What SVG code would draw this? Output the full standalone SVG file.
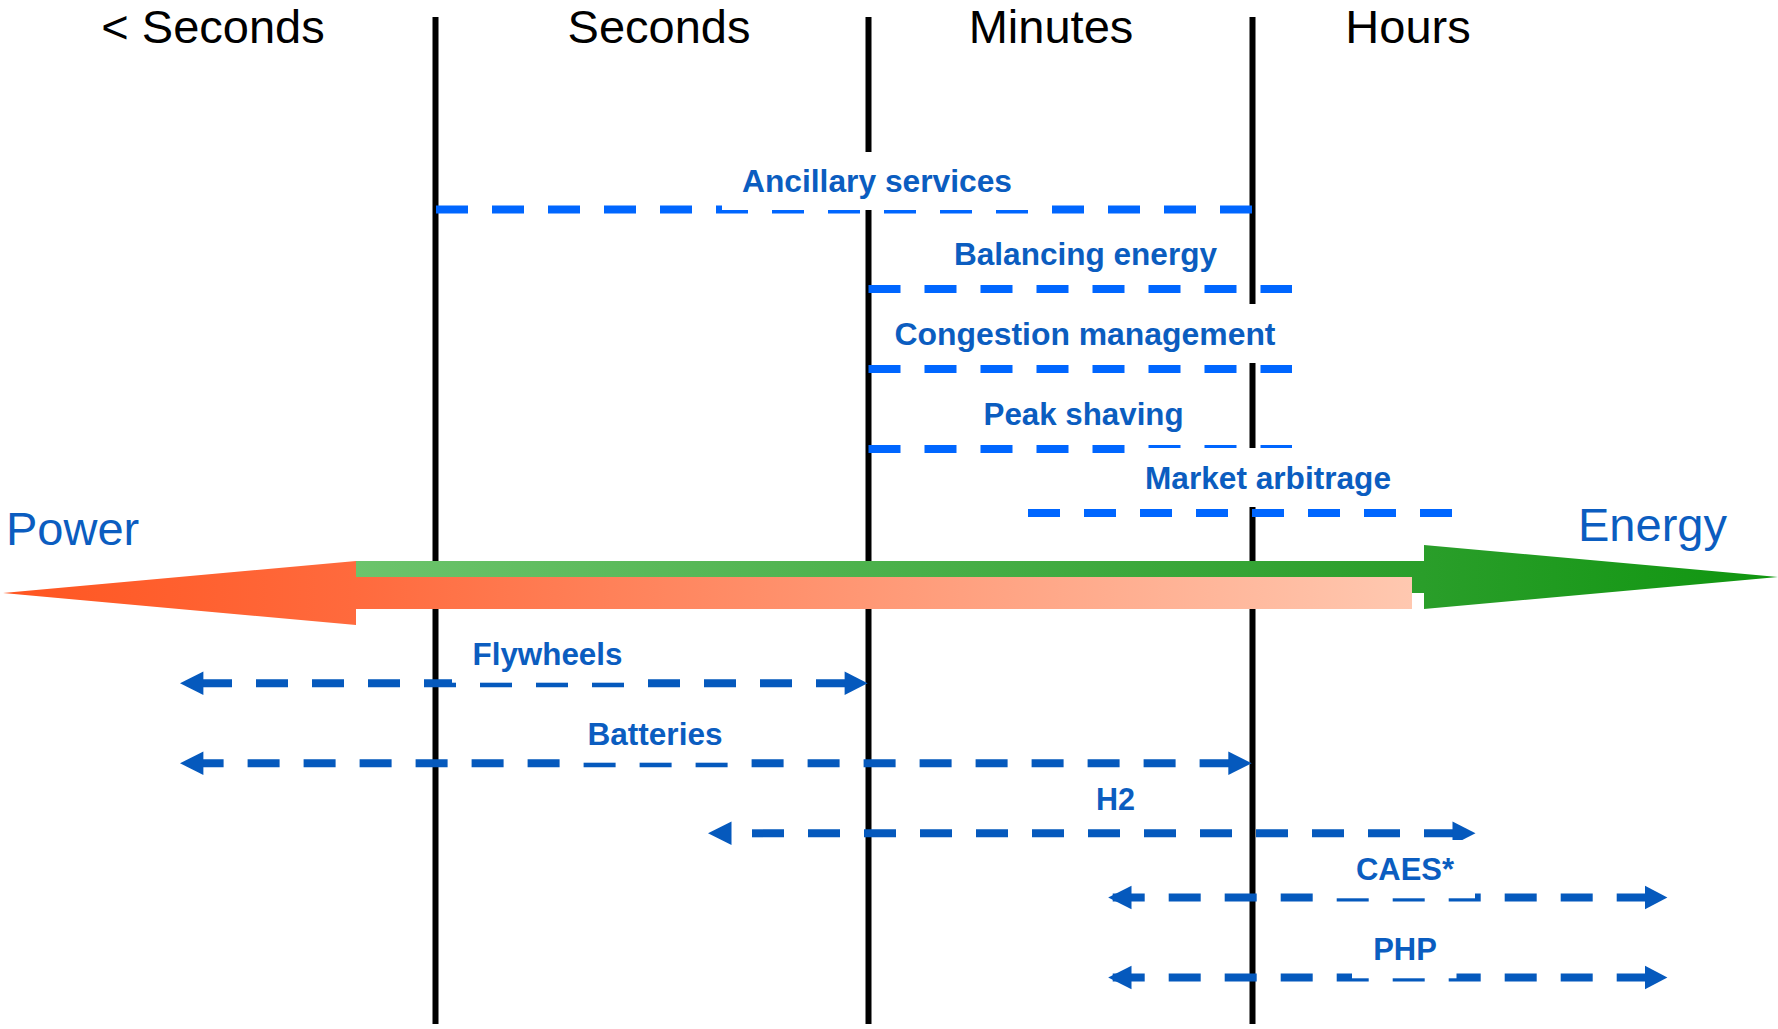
<svg xmlns="http://www.w3.org/2000/svg" width="1778" height="1029" viewBox="0 0 1778 1029">
  <defs>
    <linearGradient id="gOrange" gradientUnits="userSpaceOnUse" x1="0" y1="0" x2="1412" y2="0">
      <stop offset="0" stop-color="#ff5520"/>
      <stop offset="0.25" stop-color="#ff6a3d"/>
      <stop offset="1" stop-color="#ffc8b0"/>
    </linearGradient>
    <linearGradient id="gGreen" gradientUnits="userSpaceOnUse" x1="356" y1="0" x2="1778" y2="0">
      <stop offset="0" stop-color="#6cc46c"/>
      <stop offset="0.75" stop-color="#2a9e2a"/>
      <stop offset="1" stop-color="#0f960f"/>
    </linearGradient>
  </defs>
  <style>
    .hdr { font-family: "Liberation Sans", Arial, sans-serif; font-size: 47px; fill: #000; text-anchor: middle; }
    .axis { font-family: "Liberation Sans", Arial, sans-serif; font-size: 47px; fill: #0b5dc0; }
    .lbl { font-family: "Liberation Sans", Arial, sans-serif; font-size: 31px; font-weight: bold; fill: #0b5dc0; text-anchor: middle; }
    .vline { stroke: #000; stroke-width: 6; fill: none; }
    .svc { stroke: #0066ff; stroke-width: 8; stroke-dasharray: 32 24; fill: none; }
    .tech { stroke: #0559bd; stroke-width: 8; stroke-dasharray: 32 24; fill: none; }
    .head { fill: #0559bd; }
    .box { fill: #fff; }
  </style>
  <rect width="1778" height="1029" fill="#fff"/>

  <g id="timescale-headers">
    <text class="hdr" x="213" y="43">&lt; Seconds</text>
    <text class="hdr" x="659" y="43">Seconds</text>
    <text class="hdr" x="1051" y="43">Minutes</text>
    <text class="hdr" x="1408" y="43">Hours</text>
  </g>

  <g id="dividers">
    <line class="vline" x1="435.5" y1="17" x2="435.5" y2="1024"/>
    <line class="vline" x1="868.5" y1="17" x2="868.5" y2="1024"/>
    <line class="vline" x1="1252.5" y1="17" x2="1252.5" y2="1024"/>
  </g>

  <g id="power-energy-axis">
    <rect x="356" y="561" width="1068" height="32" fill="url(#gGreen)"/>
    <polygon points="1424,545 1778,577 1424,609" fill="url(#gGreen)"/>
    <rect x="356" y="577" width="1056" height="32" fill="url(#gOrange)"/>
    <polygon points="356,561 3,593 356,625" fill="url(#gOrange)"/>
    <text class="axis" x="6" y="545" font-size="46">Power</text>
    <text class="axis" x="1578" y="541">Energy</text>
  </g>

  <g id="connectors">
    <line class="svc" x1="436" y1="209.5" x2="1253" y2="209.5"/>
    <line class="svc" x1="868.5" y1="289" x2="1292" y2="289"/>
    <line class="svc" x1="868.5" y1="369" x2="1292" y2="369"/>
    <line class="svc" x1="868.5" y1="449" x2="1292" y2="449"/>
    <line class="svc" x1="1028" y1="513" x2="1453" y2="513"/>

    <line class="tech" x1="200" y1="683.3" x2="848" y2="683.3"/>
    <polygon class="head" points="203.4,671.6 180,683.3 203.4,695"/>
    <polygon class="head" points="844.6,671.6 867.6,683.3 844.6,695"/>

    <line class="tech" x1="191.6" y1="763.3" x2="1230" y2="763.3"/>
    <polygon class="head" points="203.4,751.6 180,763.3 203.4,775"/>
    <polygon class="head" points="1228.3,751.6 1251.7,763.3 1228.3,775"/>

    <line class="tech" x1="752" y1="833.3" x2="1456" y2="833.3"/>
    <polygon class="head" points="731.5,821.6 708,833.3 731.5,845"/>
    <polygon class="head" points="1452.5,821.6 1475.5,833.3 1452.5,845"/>

    <line class="tech" x1="1112.7" y1="897.5" x2="1648.7" y2="897.5"/>
    <polygon class="head" points="1131.5,885.8 1108.2,897.5 1131.5,909.2"/>
    <polygon class="head" points="1645,885.8 1667.4,897.5 1645,909.2"/>

    <line class="tech" x1="1112.7" y1="977.5" x2="1648.7" y2="977.5"/>
    <polygon class="head" points="1131.5,965.8 1108.2,977.5 1131.5,989.2"/>
    <polygon class="head" points="1645,965.8 1667.4,977.5 1645,989.2"/>
  </g>

  <g id="ancillary-services">
    <rect class="box" x="722" y="152" width="313" height="58"/>
    <text class="lbl" x="877" y="192" textLength="270" lengthAdjust="spacingAndGlyphs">Ancillary services</text>
  </g>
  <g id="balancing-energy">
    <text class="lbl" x="1085.5" y="265" textLength="263" lengthAdjust="spacingAndGlyphs">Balancing energy</text>
  </g>
  <g id="congestion-management">
    <rect class="box" x="880" y="304" width="410" height="59"/>
    <text class="lbl" x="1085" y="345" textLength="381" lengthAdjust="spacingAndGlyphs">Congestion management</text>
  </g>
  <g id="peak-shaving">
    <text class="lbl" x="1083.6" y="425" textLength="200" lengthAdjust="spacingAndGlyphs">Peak shaving</text>
  </g>
  <g id="market-arbitrage">
    <rect class="box" x="1147" y="448" width="242" height="59"/>
    <text class="lbl" x="1268" y="489" textLength="246" lengthAdjust="spacingAndGlyphs">Market arbitrage</text>
  </g>

  <g id="flywheels">
    <rect class="box" x="452" y="630" width="191" height="52.7"/>
    <text class="lbl" x="547.5" y="665" textLength="150" lengthAdjust="spacingAndGlyphs">Flywheels</text>
  </g>
  <g id="batteries">
    <rect class="box" x="567" y="700" width="176" height="62.7"/>
    <text class="lbl" x="655" y="745" textLength="135" lengthAdjust="spacingAndGlyphs">Batteries</text>
  </g>
  <g id="h2">
    <text class="lbl" x="1115.4" y="810" textLength="39" lengthAdjust="spacingAndGlyphs">H2</text>
  </g>
  <g id="caes">
    <rect class="box" x="1335" y="840" width="140" height="58.3"/>
    <text class="lbl" x="1405" y="880" textLength="98" lengthAdjust="spacingAndGlyphs">CAES*</text>
  </g>
  <g id="php">
    <rect class="box" x="1352" y="920" width="104.5" height="58.3"/>
    <text class="lbl" x="1405" y="960" textLength="63.6" lengthAdjust="spacingAndGlyphs">PHP</text>
  </g>
</svg>
